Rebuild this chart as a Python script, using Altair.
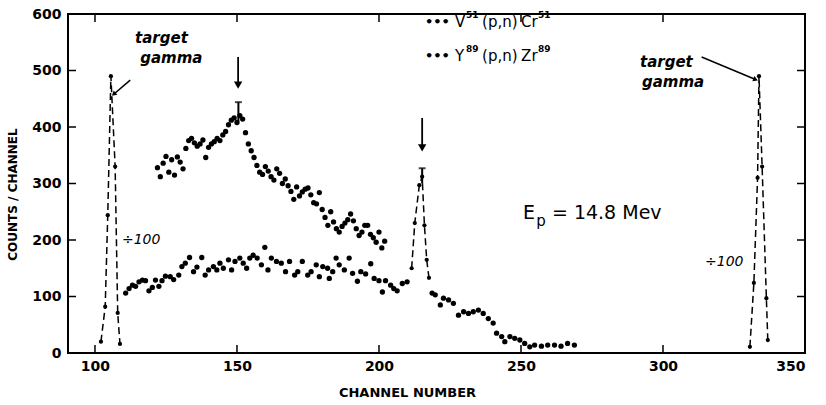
import altair as alt
import pandas as pd

# ---------------- data ----------------
v51_ch = list(range(122, 203))
v51_cnt = [328, 312, 336, 348, 320, 342, 315, 347, 338, 326,
           362, 376, 380, 372, 366, 370, 377, 346, 364, 370,
           374, 380, 376, 386, 392, 404, 412, 416, 408, 420,
           414, 390, 370, 358, 346, 332, 320, 316, 330, 322,
           312, 306, 326, 318, 300, 308, 296, 286, 272, 294,
           278, 285, 290, 292, 280, 266, 264, 284, 254, 240,
           226, 250, 232, 220, 214, 224, 230, 236, 246, 234,
           220, 208, 214, 226, 226, 210, 204, 196, 214, 186, 198]

y89_ch = [110.8, 112.0, 113.2, 114.3, 115.5, 116.7, 117.8, 119.0, 120.2, 121.3,
          122.5, 123.6, 124.8, 126.5, 127.7, 129.5, 130.6, 131.8, 133.3, 134.7,
          135.9, 137.6, 138.8, 140.0, 141.7, 142.9, 144.0, 145.2, 147.0, 148.1,
          149.3, 151.0, 152.2, 153.4, 154.5, 155.7, 157.1, 158.6, 159.8, 160.9,
          162.1, 163.9, 165.6, 167.1, 168.5, 170.3, 171.4, 173.0, 174.9, 176.1,
          177.9, 179.0, 180.2, 181.9, 182.5, 183.7, 184.9, 186.0, 187.8, 189.5,
          190.7, 192.4, 193.6, 195.3, 197.1, 198.3, 200.0, 201.2, 202.3, 204.1,
          205.2, 206.4, 208.2, 209.9,
          218.7, 219.8, 221.6, 222.7, 224.5, 226.2, 228.0, 229.8, 231.5, 233.2,
          235.0, 236.7, 238.5, 240.2, 241.4, 243.2, 244.3, 246.1, 247.8, 249.6,
          251.3, 253.1, 254.8, 257.2, 259.4, 261.8, 264.1, 266.4, 268.8]
y89_cnt = [106, 114, 120, 118, 126, 129, 128, 110, 116, 129,
           118, 128, 136, 135, 130, 138, 153, 159, 169, 144,
           152, 169, 138, 147, 153, 147, 159, 150, 165, 147,
           162, 168, 159, 150, 168, 173, 168, 156, 187, 147,
           168, 162, 159, 144, 162, 138, 144, 162, 138, 144,
           156, 135, 153, 150, 132, 144, 168, 156, 147, 168,
           141, 127, 144, 140, 158, 132, 128, 108, 128, 120,
           114, 110, 123, 126,
           106, 103, 85, 97, 94, 88, 67, 73, 70, 73,
           76, 70, 61, 53, 35, 29, 20, 29, 26, 23,
           17, 11, 14, 12, 14, 14, 12, 17, 14]

gamma_left_ch = [102.1, 103.6, 104.5, 105.6, 107.1, 108.0, 108.8]
gamma_left_cnt = [20, 82, 244, 490, 330, 71, 16]

gamma_right_ch = [330.6, 332.0, 333.3, 333.8, 334.9, 336.4, 336.9]
gamma_right_cnt = [11, 124, 310, 490, 330, 97, 23]

peak_ch = [211.5, 212.6, 214.2, 215.2, 216.0, 216.8, 217.6]
peak_cnt = [150, 230, 297, 312, 226, 165, 133]

err_ch = [150.5, 215.2]
err_lo = [410, 300]
err_hi = [444, 327]

arrow_ch = [150.4, 215.2]
arrow_top = [524, 416]
arrow_tip = [465, 354]

x_ticks = [100, 150, 200, 250, 300]
y_ticks = [100, 200, 300, 400, 500]

W, H = 737, 339
xs = alt.Scale(domain=[90.5, 350], nice=False, zero=False)
ys = alt.Scale(domain=[0, 600], nice=False)

FONT = "DejaVu Sans"

xaxis = alt.Axis(values=[100, 150, 200, 250, 300, 350], ticks=False, domain=False, grid=False,
                 labelFont=FONT, labelFontSize=14, labelFontWeight="bold", labelColor="black",
                 labelPadding=6, title="CHANNEL   NUMBER", titleFont=FONT, titleFontSize=13,
                 titleFontWeight="bold", titleColor="black", titleX=339, titleY=39,
                 titleBaseline="middle", titleAlign="center")
yaxis = alt.Axis(values=[0, 100, 200, 300, 400, 500, 600], ticks=False, domain=False, grid=False,
                 labelFont=FONT, labelFontSize=14, labelFontWeight="bold", labelColor="black",
                 labelPadding=7, title="COUNTS / CHANNEL", titleFont=FONT, titleFontSize=12,
                 titleFontWeight="bold", titleColor="black", titleX=-56, titleY=180,
                 titleBaseline="middle", titleAlign="center")

X = lambda f: alt.X(f, scale=xs)
Y = lambda f: alt.Y(f, scale=ys)

v51 = pd.DataFrame({"ch": v51_ch, "cnt": v51_cnt})
y89 = pd.DataFrame({"ch": y89_ch, "cnt": y89_cnt})

pts_v = alt.Chart(v51).mark_circle(size=28, color="black", opacity=1).encode(
    x=alt.X("ch:Q", scale=xs, axis=xaxis), y=alt.Y("cnt:Q", scale=ys, axis=yaxis))
pts_y = alt.Chart(y89).mark_circle(size=28, color="black", opacity=1).encode(
    x=X("ch:Q"), y=Y("cnt:Q"))

def dashed(chs, cnts):
    df = pd.DataFrame({"ch": chs, "cnt": cnts})
    ln = alt.Chart(df).mark_line(color="black", strokeWidth=1.5, strokeDash=[7, 4]).encode(
        x=X("ch:Q"), y=Y("cnt:Q"))
    pt = alt.Chart(df).mark_circle(size=18, color="black", opacity=1).encode(
        x=X("ch:Q"), y=Y("cnt:Q"))
    return ln + pt

gl = dashed(gamma_left_ch, gamma_left_cnt)
gr = dashed(gamma_right_ch, gamma_right_cnt)
pk = dashed(peak_ch, peak_cnt)

err = pd.DataFrame({"ch": err_ch, "lo": err_lo, "hi": err_hi})
err_rule = alt.Chart(err).mark_rule(color="black", strokeWidth=2).encode(
    x=X("ch:Q"), y=Y("lo:Q"), y2="hi:Q")
err_cap = alt.Chart(err).mark_tick(color="black", thickness=2, size=7, orient="horizontal").encode(
    x=X("ch:Q"), y=Y("hi:Q"))

arr = pd.DataFrame({"ch": arrow_ch, "top": arrow_top, "tip": arrow_tip,
                    "head": [t + 9 for t in arrow_tip]})
arr_rule = alt.Chart(arr).mark_rule(color="black", strokeWidth=1.8).encode(
    x=X("ch:Q"), y=Y("top:Q"), y2="head:Q")
arr_head = alt.Chart(arr).mark_point(shape="triangle-down", filled=True, color="black",
                                     size=70, opacity=1).encode(
    x=X("ch:Q"), y=Y("head:Q"))

ptr = pd.DataFrame({"x1": [112.4, 313.6], "y1": [483, 524], "x2": [106.6, 332.6], "y2": [458, 484],
                    "ang": [228, 113]})
ptr_rule = alt.Chart(ptr).mark_rule(color="black", strokeWidth=1.5).encode(
    x=X("x1:Q"), y=Y("y1:Q"), x2="x2:Q", y2="y2:Q")
ptr_head = alt.Chart(ptr).mark_point(shape="triangle-up", filled=True, color="black",
                                     size=30, opacity=1).encode(
    x=X("x2:Q"), y=Y("y2:Q"), angle=alt.Angle("ang:Q", scale=None))

def txt(xv, yv, t, size, dx=0, dy=0, weight="normal", style="normal"):
    df = pd.DataFrame({"x": xv, "y": yv, "t": t})
    return alt.Chart(df).mark_text(font=FONT, fontSize=size, fontWeight=weight, fontStyle=style,
                                   align="left", baseline="middle", color="black",
                                   dx=dx, dy=dy).encode(x=X("x:Q"), y=Y("y:Q"), text="t:N")

tg_text = txt([114.1, 115.9, 291.9, 292.6], [557, 522, 515, 480],
              ["target", "gamma", "target", "gamma"], 15, weight="bold", style="italic")
div_text = txt([109.5, 314.8], [200, 161], ["÷100", "÷100"], 14, style="italic")

leg_base_x = [226.8, 226.8]
leg_base_y = [586, 526]
leg_dots = txt([216.2, 216.2], leg_base_y, ["•••", "•••"], 13, weight="bold")
leg_a = txt(leg_base_x, leg_base_y, ["V", "Y"], 15)
leg_a_sup = txt(leg_base_x, leg_base_y, ["51", "89"], 9, dx=11, dy=-7, weight="bold")
leg_b = txt(leg_base_x, leg_base_y, ["(p,n)", "(p,n)"], 15, dx=27)
leg_c = txt(leg_base_x, leg_base_y, ["Cr", "Zr"], 15, dx=66)
leg_c_sup = txt(leg_base_x, leg_base_y, ["51", "89"], 9, dx=83, dy=-7, weight="bold")

ep_text = txt([250.7, 260.9], [248, 248], ["E", "= 14.8  Mev"], 19)
eps_text = txt([255.4], [233], ["p"], 15)

xt = pd.DataFrame({"v": x_ticks})
yt = pd.DataFrame({"v": y_ticks})
tick_b = alt.Chart(xt).mark_rule(color="black", strokeWidth=1.5).encode(
    x=X("v:Q"), y=alt.value(H), y2=alt.value(H - 8))
tick_t = alt.Chart(xt).mark_rule(color="black", strokeWidth=1.5).encode(
    x=X("v:Q"), y=alt.value(0), y2=alt.value(8))
tick_l = alt.Chart(yt).mark_rule(color="black", strokeWidth=1.5).encode(
    y=Y("v:Q"), x=alt.value(0), x2=alt.value(8))
tick_r = alt.Chart(yt).mark_rule(color="black", strokeWidth=1.5).encode(
    y=Y("v:Q"), x=alt.value(W), x2=alt.value(W - 8))

chart = alt.layer(
    pts_v, pts_y, gl, gr, pk, err_rule, err_cap, arr_rule, arr_head, ptr_rule, ptr_head,
    tg_text, div_text, leg_dots, leg_a, leg_a_sup, leg_b, leg_c, leg_c_sup, ep_text, eps_text,
    tick_b, tick_t, tick_l, tick_r
).properties(
    width=W, height=H,
    autosize=alt.AutoSizeParams(type="none"),
    padding={"left": 68, "top": 14, "right": 21, "bottom": 52},
    background="white"
).configure_view(stroke="black", strokeWidth=2)

chart.save("out.html", embed_options={"renderer": "svg", "actions": False})
